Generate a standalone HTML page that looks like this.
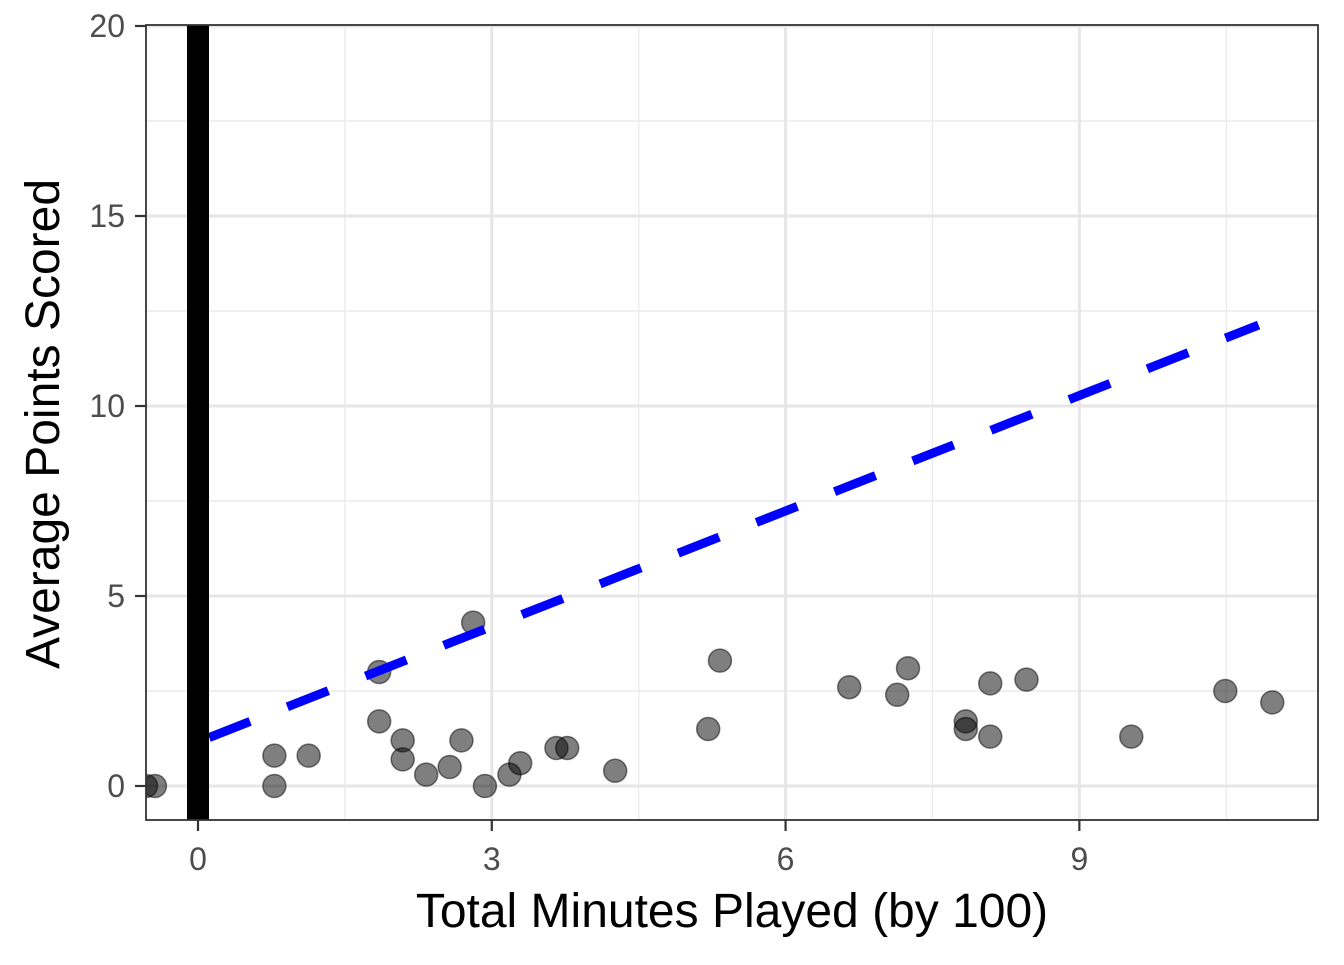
<!DOCTYPE html>
<html><head><meta charset="utf-8"><style>
body{margin:0;background:#fff;}
svg text{font-family:"Liberation Sans",Arial,sans-serif;}
</style></head><body>
<svg id="chart" width="1344" height="960" viewBox="0 0 1344 960" xmlns="http://www.w3.org/2000/svg">
<defs><clipPath id="pc"><rect x="146" y="25" width="1172" height="795"/></clipPath></defs>
<rect x="146" y="25" width="1172" height="795" fill="#fff"/>
<g id="grid"></g>
<g id="pts" clip-path="url(#pc)"></g>
<g id="overlay" clip-path="url(#pc)"></g>
<rect x="146" y="25" width="1172" height="795" fill="none" stroke="#333" stroke-width="1.8"/>
<g id="axes"></g>
<text x="732" y="927" font-size="48" text-anchor="middle" fill="#000">Total Minutes Played (by 100)</text>
<text transform="translate(59,424) rotate(-90)" font-size="48" text-anchor="middle" fill="#000">Average Points Scored</text>
</svg>
<script>
const xs=[-0.53,-0.44,0.78,0.78,1.13,1.85,1.85,2.09,2.09,2.33,2.57,2.69,2.81,2.93,3.18,3.29,3.66,3.77,4.26,5.21,5.33,6.65,7.14,7.25,7.84,7.84,8.09,8.09,8.46,9.53,10.49,10.97];
const ys=[0,0,0.8,0,0.8,3.0,1.7,1.2,0.7,0.3,0.5,1.2,4.3,0,0.3,0.6,1.0,1.0,0.4,1.5,3.3,2.6,2.4,3.1,1.7,1.5,2.7,1.3,2.8,1.3,2.5,2.2];
const xTicks=[0,3,6,9];
const xMinor=[1.5,4.5,7.5,10.5];
const yTicks=[0,5,10,15,20];
const yMinor=[2.5,7.5,12.5,17.5];
const fitStart=[0,1.16];
const fitEnd=[10.83,12.13];
const vlineX=[0];
const X=v=>198+v*97.93, Y=v=>786-v*38;
const NS="http://www.w3.org/2000/svg";
function mk(t,a,p){const e=document.createElementNS(NS,t);for(const k in a)e.setAttribute(k,a[k]);p.appendChild(e);return e;}
const g=document.getElementById('grid'),pg=document.getElementById('pts'),ov=document.getElementById('overlay'),ax=document.getElementById('axes');
xMinor.forEach(v=>{const l=mk('line',{x1:X(v),x2:X(v),y1:25,y2:820,stroke:'#ebebeb','stroke-width':1.4},g);

});
yMinor.forEach(v=>{const l=mk('line',{x1:146,x2:1318,y1:Y(v),y2:Y(v),stroke:'#ebebeb','stroke-width':1.4},g);

});
xTicks.forEach(v=>{const l=mk('line',{x1:X(v),x2:X(v),y1:25,y2:820,stroke:'#e6e6e6','stroke-width':3},g);


const t=mk('line',{x1:X(v),x2:X(v),y1:820,y2:831,stroke:'#333','stroke-width':2.2},ax);


const tx=mk('text',{x:X(v),y:870,'font-size':32,'text-anchor':'middle',fill:'#4d4d4d'},ax);tx.textContent=v;

});
yTicks.forEach(v=>{const l=mk('line',{x1:146,x2:1318,y1:Y(v),y2:Y(v),stroke:'#e6e6e6','stroke-width':3},g);


const t=mk('line',{x1:135,x2:146,y1:Y(v),y2:Y(v),stroke:'#333','stroke-width':2.2},ax);


const tx=mk('text',{x:125,y:Y(v)+11,'font-size':32,'text-anchor':'end',fill:'#4d4d4d'},ax);tx.textContent=v;

});
xs.forEach((v,i)=>{const c=mk('circle',{cx:X(v),cy:Y(ys[i]),r:11.5,fill:'rgba(0,0,0,0.5)',stroke:'rgba(0,0,0,0.5)','stroke-width':1.5},pg);

});
const fl=mk('line',{x1:X(fitStart[0]),y1:Y(fitStart[1]),x2:X(fitEnd[0]),y2:Y(fitEnd[1]),stroke:'#0000ff','stroke-width':9,'stroke-dasharray':'44,40','stroke-dashoffset':'-12'},ov);


vlineX.forEach(v=>{const r=mk('line',{x1:X(v),x2:X(v),y1:25,y2:820,stroke:'#000','stroke-width':22},ov);

});
</script>
</body></html>
